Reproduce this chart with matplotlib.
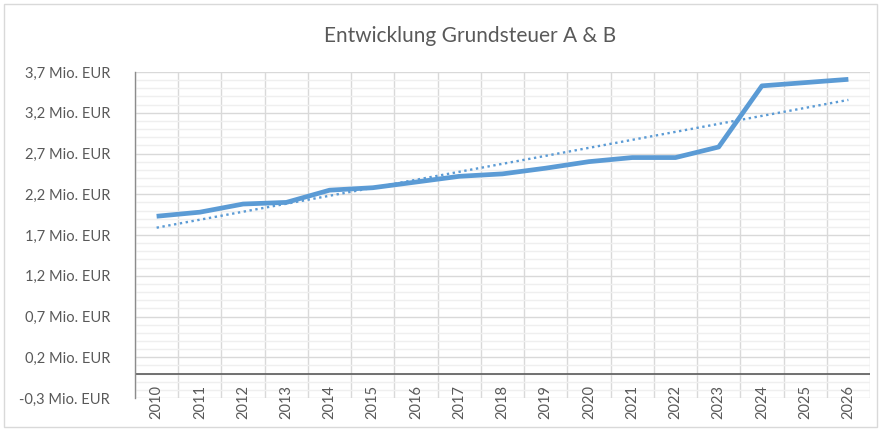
import numpy as np
import matplotlib
matplotlib.use("Agg")
import matplotlib.pyplot as plt
from matplotlib.patches import Rectangle
from matplotlib.ticker import FixedLocator

years = [str(y) for y in range(2010, 2027)]
values = [1.93, 1.98, 2.08, 2.10, 2.25, 2.28, 2.35, 2.42, 2.45, 2.52, 2.60,
          2.65, 2.65, 2.78, 3.53, 3.57, 3.61]
title = "Entwicklung Grundsteuer A & B"

plt.rcParams['font.family'] = ['Lato', 'DejaVu Sans']
text_color = '#595959'
line_color = '#5B9BD5'

fig = plt.figure(figsize=(8.81, 4.30), dpi=100)
ax = fig.add_axes([135/881, 1-398/430, (870-135)/881, (398-72)/430])

x = np.arange(len(years))
ax.plot(x, values, color=line_color, lw=3.4, solid_capstyle='butt', zorder=4)
coef = np.polyfit(x, values, 1)
ax.plot(x, np.polyval(coef, x), color=line_color, lw=1.7, ls=(0, (1, 1.5)), zorder=3)

ax.set_xlim(-0.5, len(years)-0.5)
ax.set_ylim(-0.3, 3.7)
ax.yaxis.set_major_locator(FixedLocator(np.arange(-0.3, 3.71, 0.5)))
ax.yaxis.set_minor_locator(FixedLocator(np.arange(-0.3, 3.71, 0.1)))
ax.set_yticklabels([f"{v:.1f}".replace('.', ',') + " Mio. EUR" for v in np.arange(-0.3, 3.71, 0.5)])
ax.tick_params(axis='y', which='both', length=0, pad=18, labelsize=10.5, labelcolor=text_color)
ax.set_xticks([])
ax.xaxis.set_minor_locator(FixedLocator(np.arange(-0.5, len(years), 1.0)))
ax.tick_params(axis='x', which='both', length=0)

ax.grid(True, which='minor', axis='y', color='#efefef', lw=1.0, zorder=0)
ax.grid(True, which='major', axis='y', color='#d9d9d9', lw=1.0, zorder=1)
ax.grid(True, which='minor', axis='x', color='#d9d9d9', lw=1.0, zorder=1)
ax.set_axisbelow(True)

for s in ['top', 'right', 'bottom']:
    ax.spines[s].set_visible(False)
ax.spines['left'].set_color('#8c8c8c')
ax.spines['left'].set_linewidth(1.0)
ax.axhline(0, color='#595959', lw=1.2, zorder=2)

for xi, lab in zip(x, years):
    ax.annotate(lab, (xi, 0), xytext=(0, -8), textcoords='offset points',
                rotation=90, ha='center', va='top', fontsize=10.5, color=text_color)

fig.text(470/881, 1-36/430, title, ha='center', va='center', fontsize=15, color=text_color)

fig.patches.append(Rectangle((4/881, 3/430), 873/881, 423/430, transform=fig.transFigure,
                             fill=False, edgecolor='#d9d9d9', lw=1.0))

fig.savefig('out.png', dpi=100)
